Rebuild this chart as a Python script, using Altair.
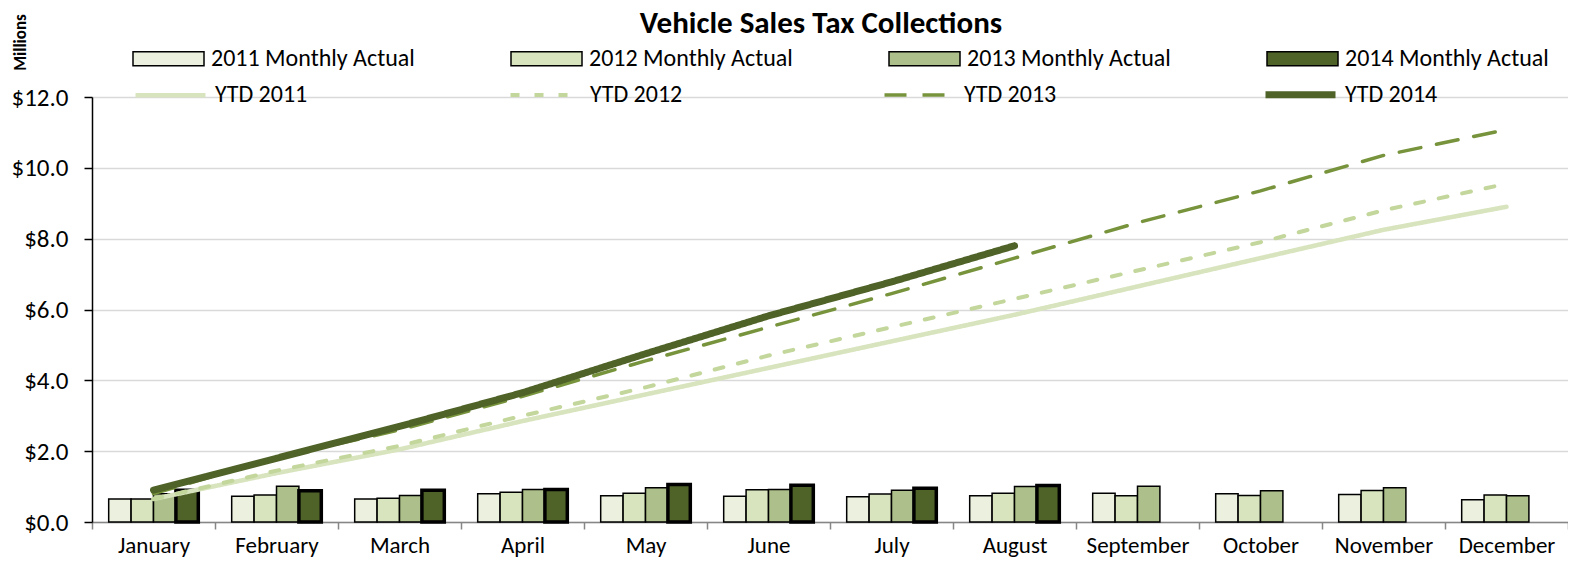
import altair as alt
import pandas as pd

months = ["January", "February", "March", "April", "May", "June", "July",
          "August", "September", "October", "November", "December"]

bar_series = ["2011 Monthly Actual", "2012 Monthly Actual",
              "2013 Monthly Actual", "2014 Monthly Actual"]
bar_colors = ["#EBF1DE", "#D7E4BD", "#ADBF8A", "#4F6228"]

m2011 = [0.65, 0.73, 0.65, 0.80, 0.74, 0.73, 0.71, 0.74, 0.81, 0.80, 0.78, 0.63]
m2012 = [0.65, 0.76, 0.67, 0.84, 0.81, 0.91, 0.79, 0.81, 0.74, 0.75, 0.89, 0.76]
m2013 = [0.80, 1.01, 0.75, 0.92, 0.97, 0.92, 0.90, 1.00, 1.01, 0.88, 0.97, 0.74]
m2014 = [0.90, 0.88, 0.90, 0.92, 1.06, 1.04, 0.95, 1.03]

line_series = ["YTD 2011", "YTD 2012", "YTD 2013", "YTD 2014"]
line_colors = ["#D7E4BD", "#C3D69B", "#77933C", "#4F6228"]
line_dash = [[1, 0], [9, 15], [22, 16], [1, 0]]
line_width = [4.5, 4, 3.5, 7]

ytd2011 = [0.65, 1.38, 2.05, 2.85, 3.60, 4.35, 5.10, 5.85, 6.65, 7.45, 8.25, 8.90]
ytd2012 = [0.65, 1.45, 2.15, 3.00, 3.80, 4.70, 5.50, 6.30, 7.10, 7.90, 8.80, 9.55]
ytd2013 = [0.80, 1.82, 2.60, 3.55, 4.55, 5.50, 6.45, 7.45, 8.45, 9.35, 10.35, 11.08]
ytd2014 = [0.90, 1.80, 2.70, 3.65, 4.75, 5.82, 6.78, 7.80]

y_ticks = [0, 2, 4, 6, 8, 10, 12]

FONT = "Carlito, Lato, sans-serif"

bar_rows = []
for s, vals in zip(bar_series, [m2011, m2012, m2013, m2014]):
    for m, v in zip(months, vals):
        bar_rows.append({"month": m, "series": s, "value": v})
bar_df = pd.DataFrame(bar_rows)

line_rows = []
for s, vals in zip(line_series, [ytd2011, ytd2012, ytd2013, ytd2014]):
    for m, v in zip(months, vals):
        line_rows.append({"month": m, "series": s, "value": v})
line_df = pd.DataFrame(line_rows)

x_enc = alt.X(
    "month:N", sort=months, title=None,
    scale=alt.Scale(paddingInner=0, paddingOuter=0),
    axis=alt.Axis(labelAngle=0, labelFontSize=23, labelFont=FONT, labelColor="black",
                  labelPadding=5, domainColor="#868686", domainWidth=1.5,
                  tickColor="#868686", tickWidth=1.5, tickSize=7, tickBand="extent",
                  grid=False),
)
y_enc = alt.Y(
    "value:Q",
    scale=alt.Scale(domain=[0, 12]),
    axis=alt.Axis(values=y_ticks, format="$.1f", labelFontSize=25, labelFont=FONT,
                  labelColor="black", labelPadding=16, tickColor="black", tickSize=8,
                  tickWidth=1.5, domainColor="black", domainWidth=1.5,
                  gridColor="#D9D9D9", gridWidth=1.5,
                  title="Millions", titleFont=FONT, titleFontSize=17,
                  titleFontWeight="bold", titleColor="black", titleAngle=270,
                  titleX=-72, titleY=-55, titleAlign="center", titleBaseline="middle"),
)

bars = alt.Chart(bar_df).mark_bar(stroke="black").encode(
    x=x_enc,
    y=y_enc,
    xOffset=alt.XOffset("series:N", sort=bar_series,
                        scale=alt.Scale(domain=bar_series, paddingInner=0, paddingOuter=0.745)),
    fill=alt.Fill(
        "series:N", sort=bar_series,
        scale=alt.Scale(domain=bar_series, range=bar_colors),
        legend=alt.Legend(
            title=None, orient="none", direction="horizontal", columns=4,
            legendX=40, legendY=-75, padding=0,
            symbolType="M-1,-0.2H1V0.2H-1Z", symbolSize=5041,
            symbolStrokeColor="black", symbolStrokeWidth=1.5, symbolOpacity=1,
            labelFontSize=24, labelFont=FONT, labelColor="black", labelOffset=6,
            columnPadding=93, labelLimit=400,
        ),
    ),
    strokeWidth=alt.condition("datum.series == '2014 Monthly Actual'",
                              alt.value(3.5), alt.value(1.5)),
)

lines = alt.Chart(line_df).mark_line(strokeCap="round", strokeJoin="round").encode(
    x=alt.X("month:N", sort=months),
    y=alt.Y("value:Q"),
    stroke=alt.Stroke(
        "series:N", sort=line_series,
        scale=alt.Scale(domain=line_series, range=line_colors),
        legend=alt.Legend(
            title=None, orient="none", direction="horizontal", columns=4,
            legendX=40, legendY=-41, padding=0,
            symbolType="stroke", symbolSize=4900,
            labelFontSize=24, labelFont=FONT, labelColor="black", labelOffset=6,
            columnPadding=194, labelLimit=400,
        ),
    ),
    strokeDash=alt.StrokeDash("series:N", sort=line_series,
                              scale=alt.Scale(domain=line_series, range=line_dash)),
    strokeWidth=alt.StrokeWidth("series:N", sort=line_series,
                                scale=alt.Scale(type="ordinal", domain=line_series,
                                                range=line_width)),
)

chart = alt.layer(bars, lines).properties(
    width=1476,
    height=425,
    title=alt.TitleParams("Vehicle Sales Tax Collections", fontSize=31, font=FONT,
                          fontWeight="bold", color="black", anchor="middle",
                          frame="group", dx=-9, dy=30),
    autosize=alt.AutoSizeParams(type="none"),
    padding={"left": 84, "top": 89, "right": 0, "bottom": 36},
).configure_view(stroke=None).configure(background="white")

chart.save("out.html", embed_options={"renderer": "svg", "actions": False})
